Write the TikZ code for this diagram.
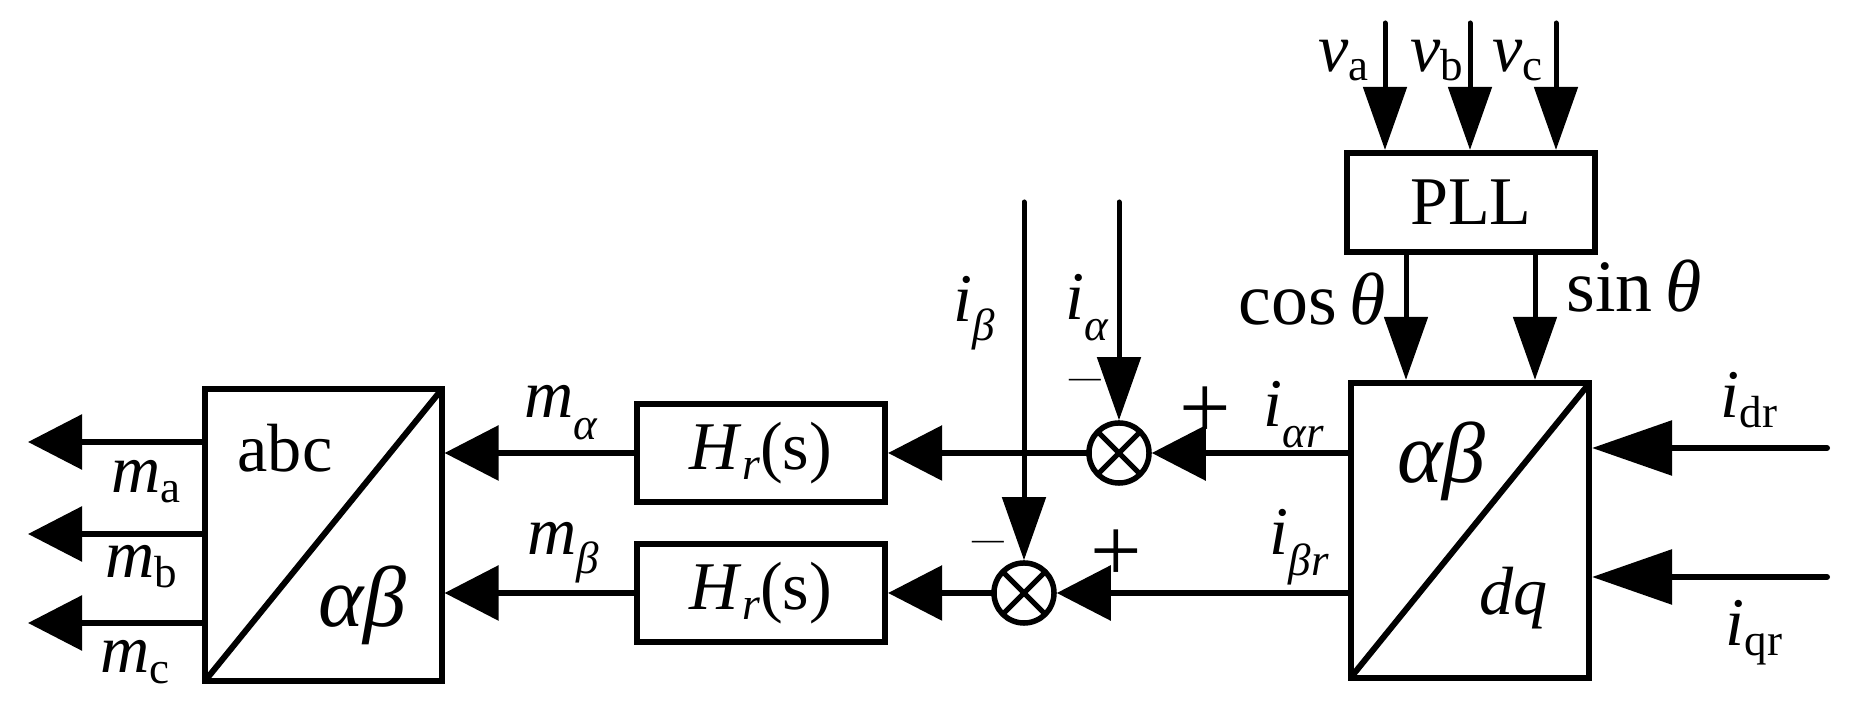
\documentclass[tikz,border=0pt]{standalone}
\usepackage{fontspec}
\setmainfont{Liberation Serif}
\usetikzlibrary{arrows.meta}

\newcommand{\chan}[3]{\textit{#1}\raisebox{-#3}{\fontsize{12.8}{13}\selectfont #2}}

\begin{document}
\begin{tikzpicture}[x=0.01cm, y=-0.01cm, font=\fontsize{19.4}{22}\selectfont]
\tikzstyle{block} = [rectangle, draw, line width=0.06cm, minimum width=2.48cm, minimum height=0.98cm, inner sep=0pt]
\tikzstyle{conv} = [rectangle, draw, line width=0.06cm, inner sep=0pt]
\tikzstyle{summer} = [circle, draw, line width=0.055cm, fill=white, minimum size=0.6cm, inner sep=0pt, path picture={\draw [line width=0.05cm] (path picture bounding box.north west) -- (path picture bounding box.south east) (path picture bounding box.north east) -- (path picture bounding box.south west);}]
\tikzstyle{tag} = [inner sep=0pt, anchor=base west]
\tikzstyle{sign} = [inner sep=0pt]
\tikzstyle{diag} = [draw, line width=0.06cm, shorten <=0.04cm, shorten >=0.04cm]
\tikzstyle{line} = [draw, line width=0.06cm, line cap=round, -{Triangle[length=0.54cm, width=0.54cm]}]
\tikzstyle{feed} = [draw, line width=0.06cm, line cap=round, -{Triangle[length=0.8cm, width=0.54cm]}]
\tikzstyle{drop} = [draw, line width=0.05cm, line cap=round, -{Triangle[length=0.63cm, width=0.43cm]}]

\useasboundingbox (0,0) rectangle (1856,713);

\node [conv, minimum width=2.36cm, minimum height=2.92cm] (abc) at (323.5,535) {};
\node [conv, minimum width=2.38cm, minimum height=2.95cm] (dq) at (1470,530.5) {};
\node [block] (hr1) at (761,453) {\textit{H}\raisebox{-0.1cm}{\fontsize{13}{13}\selectfont\textit{r}}(s)};
\node [block] (hr2) at (761,593) {\textit{H}\raisebox{-0.1cm}{\fontsize{13}{13}\selectfont\textit{r}}(s)};
\node [rectangle, draw, line width=0.06cm, minimum width=2.48cm, minimum height=0.99cm, inner sep=0pt] (pll) at (1471,202.5) {PLL};
\node [summer] (sum1) at (1119,453) {};
\node [summer] (sum2) at (1024,593) {};

\coordinate (maOut) at (28,442);
\coordinate (mbOut) at (28,534);
\coordinate (mcOut) at (28,623);
\coordinate (vaIn) at (1385,23);
\coordinate (vbIn) at (1470,23);
\coordinate (vcIn) at (1556,23);
\coordinate (cosPort) at (1406,254);
\coordinate (sinPort) at (1535,254);
\coordinate (ialphaIn) at (1119,202);
\coordinate (ibetaIn) at (1024,202);
\coordinate (idrIn) at (1827,448);
\coordinate (iqrIn) at (1827,577);

\path [diag] (abc.south west) -- (abc.north east);
\path [diag] (dq.south west) -- (dq.north east);

\path [line] (abc.west |- maOut) -- (maOut);
\path [line] (abc.west |- mbOut) -- (mbOut);
\path [line] (abc.west |- mcOut) -- (mcOut);
\path [line] (hr1.west) -- (abc.east |- hr1.west);
\path [line] (hr2.west) -- (abc.east |- hr2.west);
\path [line] (sum1.west) -- (hr1.east);
\path [line] (sum2.west) -- (hr2.east);
\path [line] (dq.west |- sum1.east) -- (sum1.east);
\path [line] (dq.west |- sum2.east) -- (sum2.east);
\path [feed] (idrIn) -- (dq.east |- idrIn);
\path [feed] (iqrIn) -- (dq.east |- iqrIn);
\path [drop] (vaIn) -- (vaIn |- pll.north);
\path [drop] (vbIn) -- (vbIn |- pll.north);
\path [drop] (vcIn) -- (vcIn |- pll.north);
\path [drop] (cosPort |- pll.south) -- (cosPort |- dq.north);
\path [drop] (sinPort |- pll.south) -- (sinPort |- dq.north);
\path [drop] (ialphaIn) -- (sum1.north);
\path [drop] (ibetaIn) -- (sum2.north);

\node [tag] (abctext) at (237,472) {abc};
\node [tag, font=\fontsize{24.5}{26}\selectfont] (abtext) at (318,627) {\textit{αβ}};
\node [tag, font=\fontsize{24.5}{26}\selectfont] (abtext2) at (1397,483) {\textit{αβ}};
\node [tag] (dqtext) at (1479,615) {\textit{dq}};
\node [tag] (ma) at (111,493) {\chan{m}{a}{0.1cm}};
\node [tag] (mb) at (105,578) {\chan{m}{b}{0.1cm}};
\node [tag] (mc) at (100,673) {\chan{m}{c}{0.1cm}};
\node [tag] (malpha) at (524,418) {\chan{m}{\textit{α}}{0.21cm}};
\node [tag] (mbeta) at (527,555) {\chan{m}{\textit{β}}{0.18cm}};
\node [tag] (ibeta) at (953,322) {\chan{i}{\textit{β}}{0.18cm}};
\node [tag] (ialpha) at (1065,320) {\chan{i}{\textit{α}}{0.2cm}};
\node [tag] (iar) at (1263,427) {\chan{i}{\textit{αr}}{0.2cm}};
\node [tag] (ibr) at (1269,555) {\chan{i}{\textit{βr}}{0.2cm}};
\node [tag] (idr) at (1720,418) {\chan{i}{dr}{0.1cm}};
\node [tag] (iqr) at (1725,646) {\chan{i}{qr}{0.1cm}};
\node [tag] (va) at (1318,72) {\chan{v}{a}{0.09cm}};
\node [tag] (vb) at (1410,72) {\chan{v}{b}{0.09cm}};
\node [tag] (vc) at (1492,72) {\chan{v}{c}{0.09cm}};
\node [tag, font=\fontsize{21}{24}\selectfont] (costheta) at (1238,325) {cos\,\textit{θ}};
\node [tag, font=\fontsize{21}{24}\selectfont] (sintheta) at (1566,312) {sin\,\textit{θ}};
\node [sign, font=\fontsize{26}{28}\selectfont] (plus1) at (1205.5,413) {+};
\node [sign, font=\fontsize{26}{28}\selectfont] (plus2) at (1116.5,556) {+};
\node [sign, font=\fontsize{9}{10}\selectfont] (minus1) at (1085,383) {—};
\node [sign, font=\fontsize{9}{10}\selectfont] (minus2) at (988,545) {—};
\end{tikzpicture}
\end{document}
